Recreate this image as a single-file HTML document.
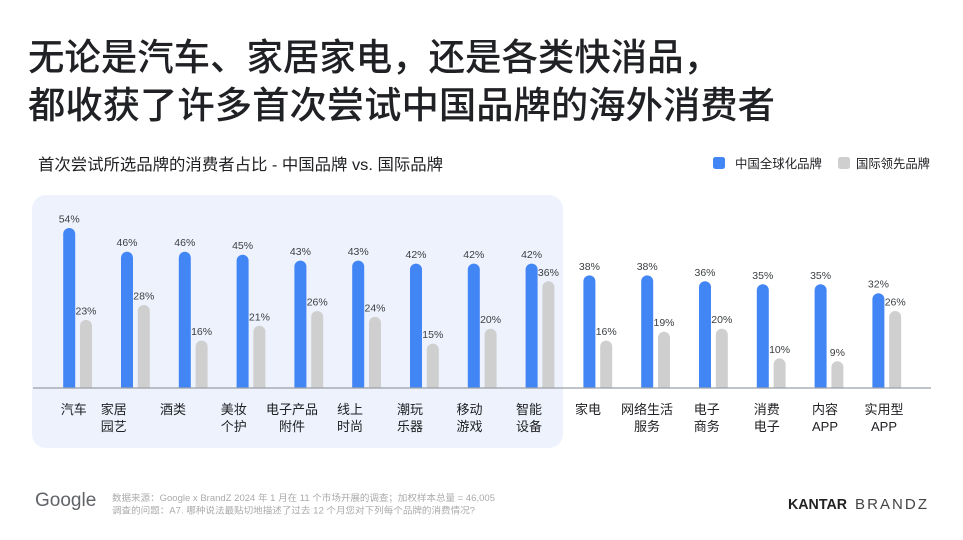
<!DOCTYPE html>
<html><head><meta charset="utf-8"><style>
html,body{margin:0;padding:0;background:#fff;}
svg{display:block;font-family:"Liberation Sans","Noto Sans CJK SC",sans-serif;}
</style></head><body>
<svg width="963" height="540" viewBox="0 0 963 540" xmlns="http://www.w3.org/2000/svg">
<defs><clipPath id="cb"><rect x="0" y="0" width="963" height="388"/></clipPath></defs>
<rect width="963" height="540" fill="#fff"/>
<!-- title -->
<text x="28" y="70" font-size="37" font-weight="500" fill="#202124" textLength="692" lengthAdjust="spacingAndGlyphs">无论是汽车、家居家电，还是各类快消品，</text>
<text x="28" y="118" font-size="37" font-weight="500" fill="#202124" textLength="747" lengthAdjust="spacingAndGlyphs">都收获了许多首次尝试中国品牌的海外消费者</text>
<!-- subtitle -->
<text x="38" y="170" font-size="16" fill="#202124" textLength="405" lengthAdjust="spacingAndGlyphs">首次尝试所选品牌的消费者占比 - 中国品牌 vs. 国际品牌</text>
<!-- legend -->
<rect x="713" y="157" width="12" height="12" rx="2.5" fill="#4285f4"/>
<text x="735" y="168" font-size="12.5" fill="#202124" textLength="87" lengthAdjust="spacingAndGlyphs">中国全球化品牌</text>
<rect x="838" y="157" width="12" height="12" rx="2.5" fill="#cfcfcf"/>
<text x="856" y="168" font-size="12.5" fill="#202124" textLength="74" lengthAdjust="spacingAndGlyphs">国际领先品牌</text>
<!-- highlight box -->
<rect x="32" y="195" width="531" height="253" rx="14" fill="#edf2fd"/>
<!-- bars -->
<g clip-path="url(#cb)">
<g fill="#4285f4">
<rect x="63.2" y="228" width="12" height="170" rx="6"/>
<rect x="121" y="251.7" width="12" height="146" rx="6"/>
<rect x="178.8" y="251.7" width="12" height="146" rx="6"/>
<rect x="236.6" y="254.7" width="12" height="143" rx="6"/>
<rect x="294.4" y="260.6" width="12" height="137" rx="6"/>
<rect x="352.2" y="260.6" width="12" height="137" rx="6"/>
<rect x="410" y="263.6" width="12" height="134" rx="6"/>
<rect x="467.8" y="263.6" width="12" height="134" rx="6"/>
<rect x="525.6" y="263.6" width="12" height="134" rx="6"/>
<rect x="583.4" y="275.4" width="12" height="122" rx="6"/>
<rect x="641.2" y="275.4" width="12" height="122" rx="6"/>
<rect x="699" y="281.3" width="12" height="116" rx="6"/>
<rect x="756.8" y="284.3" width="12" height="113" rx="6"/>
<rect x="814.6" y="284.3" width="12" height="113" rx="6"/>
<rect x="872.4" y="293.2" width="12" height="104" rx="6"/>
</g>
<g fill="#cfcfcf">
<rect x="80" y="319.9" width="12" height="78" rx="6"/>
<rect x="137.8" y="305" width="12" height="93" rx="6"/>
<rect x="195.6" y="340.6" width="12" height="57" rx="6"/>
<rect x="253.4" y="325.8" width="12" height="72" rx="6"/>
<rect x="311.2" y="311" width="12" height="87" rx="6"/>
<rect x="369" y="316.9" width="12" height="81" rx="6"/>
<rect x="426.8" y="343.6" width="12" height="54" rx="6"/>
<rect x="484.6" y="328.7" width="12" height="69" rx="6"/>
<rect x="542.4" y="281.3" width="12" height="116" rx="6"/>
<rect x="600.2" y="340.6" width="12" height="57" rx="6"/>
<rect x="658" y="331.7" width="12" height="66" rx="6"/>
<rect x="715.8" y="328.7" width="12" height="69" rx="6"/>
<rect x="773.6" y="358.4" width="12" height="39" rx="6"/>
<rect x="831.4" y="361.3" width="12" height="36" rx="6"/>
<rect x="889.2" y="311" width="12" height="87" rx="6"/>
</g>
</g>
<line x1="33" y1="388" x2="931" y2="388" stroke="#9aa0a6" stroke-width="1.2"/>
<!-- value labels -->
<g font-size="10.5" fill="#3c4043" text-anchor="middle">
<text x="69.2" y="222.5">54%</text>
<text x="127" y="246.2">46%</text>
<text x="184.8" y="246.2">46%</text>
<text x="242.6" y="249.2">45%</text>
<text x="300.4" y="255.1">43%</text>
<text x="358.2" y="255.1">43%</text>
<text x="416" y="258.1">42%</text>
<text x="473.8" y="258.1">42%</text>
<text x="531.6" y="258.1">42%</text>
<text x="589.4" y="269.9">38%</text>
<text x="647.2" y="269.9">38%</text>
<text x="705" y="275.8">36%</text>
<text x="762.8" y="278.8">35%</text>
<text x="820.6" y="278.8">35%</text>
<text x="878.4" y="287.7">32%</text>
<text x="86" y="314.4">23%</text>
<text x="143.8" y="299.5">28%</text>
<text x="201.6" y="335.1">16%</text>
<text x="259.4" y="320.3">21%</text>
<text x="317.2" y="305.5">26%</text>
<text x="375" y="311.4">24%</text>
<text x="432.8" y="338.1">15%</text>
<text x="490.6" y="323.2">20%</text>
<text x="548.4" y="275.8">36%</text>
<text x="606.2" y="335.1">16%</text>
<text x="664" y="326.2">19%</text>
<text x="721.8" y="323.2">20%</text>
<text x="779.6" y="352.9">10%</text>
<text x="837.4" y="355.8">9%</text>
<text x="895.2" y="305.5">26%</text>
</g>
<!-- category labels -->
<g font-size="13" fill="#202124" text-anchor="middle">
<text x="73.7" y="414">汽车</text>
<text x="113.7" y="414">家居</text><text x="113.7" y="431">园艺</text>
<text x="173" y="414">酒类</text>
<text x="233.7" y="414">美妆</text><text x="233.7" y="431">个护</text>
<text x="292" y="414">电子产品</text><text x="292" y="431">附件</text>
<text x="350" y="414">线上</text><text x="350" y="431">时尚</text>
<text x="410" y="414">潮玩</text><text x="410" y="431">乐器</text>
<text x="469.5" y="414">移动</text><text x="469.5" y="431">游戏</text>
<text x="529" y="414">智能</text><text x="529" y="431">设备</text>
<text x="588" y="414">家电</text>
<text x="647" y="414">网络生活</text><text x="647" y="431">服务</text>
<text x="706.7" y="414">电子</text><text x="706.7" y="431">商务</text>
<text x="766.7" y="414">消费</text><text x="766.7" y="431">电子</text>
<text x="825" y="414">内容</text><text x="825" y="431">APP</text>
<text x="884" y="414">实用型</text><text x="884" y="431">APP</text>
</g>
<!-- footer -->
<text x="35" y="506" font-size="19" fill="#5f6368">Google</text>
<text x="112" y="501" font-size="9" fill="#aaaaaa" textLength="383" lengthAdjust="spacingAndGlyphs">数据来源：Google x BrandZ 2024 年 1 月在 11 个市场开展的调查；加权样本总量 = 46,005</text>
<text x="112" y="513.5" font-size="9" fill="#aaaaaa" textLength="363" lengthAdjust="spacingAndGlyphs">调查的问题：A7. 哪种说法最贴切地描述了过去 12 个月您对下列每个品牌的消费情况?</text>
<text x="788" y="509" font-size="15" font-weight="bold" fill="#222" textLength="59" lengthAdjust="spacingAndGlyphs">KANTAR</text>
<text x="855" y="509" font-size="15" fill="#444" textLength="72" lengthAdjust="spacing">BRANDZ</text>
</svg>
</body></html>
